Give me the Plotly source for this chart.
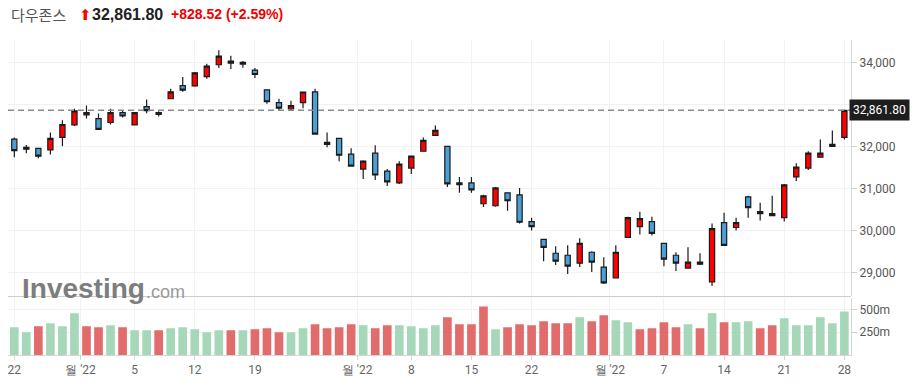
import plotly.graph_objects as go
import pandas as pd

# ---- data ----
dates = [d.strftime("%Y-%m-%d") for d in pd.bdate_range("2022-07-22", "2022-10-28")
         if d.strftime("%Y-%m-%d") != "2022-09-05"]

opens = [32180, 31937, 31960, 31920, 32219, 32516, 32752, 32667, 32573, 32808,
         32516, 32950, 32808, 33138, 33451, 33444, 33663, 33946, 34033, 33962,
         33821, 33350, 33044, 32894, 33044, 33303, 32055, 32196, 31819, 31466,
         31843, 31419, 31136, 31489, 31890, 32266, 32007, 31136, 31136, 30641,
         30594, 30900, 30853, 30217, 29794, 29464, 29417, 29229, 29488, 29135,
         28876, 29841, 30099, 30217, 29700, 29417, 29111, 29252, 28781, 30194,
         30076, 30806, 30453, 30406, 30311, 31278, 31489, 31748, 32055, 32219]
highs = [32219, 32038, 31975, 32337, 32627, 32902, 32980, 32785, 32902, 32855,
         32823, 33122, 32839, 33374, 33656, 33774, 33969, 34292, 34158, 34033,
         33868, 33360, 33138, 33091, 33310, 33374, 32337, 32200, 31960, 31678,
         32031, 31466, 31654, 31780, 32219, 32502, 32015, 31277, 31277, 30853,
         31042, 30910, 31018, 30311, 29800, 29629, 29653, 29818, 29511, 29370,
         29653, 30335, 30453, 30335, 29705, 29488, 29606, 29464, 30170, 30429,
         30311, 30830, 30665, 30830, 31113, 31607, 31890, 32172, 32384, 32865]
lows = [31748, 31843, 31725, 31810, 32007, 32493, 32667, 32392, 32526, 32690,
        32502, 32792, 32714, 33130, 33303, 33421, 33616, 33868, 33845, 33875,
        33633, 33020, 32846, 32855, 32910, 32290, 31984, 31654, 31530, 31230,
        31207, 31065, 31113, 31348, 31885, 32260, 31042, 30900, 30900, 30563,
        30571, 30476, 30170, 30005, 29276, 29182, 28970, 29135, 29017, 28734,
        28870, 29835, 29911, 29888, 29158, 29041, 29105, 29182, 28687, 29650,
        30005, 30311, 30241, 30355, 30217, 31183, 31442, 31745, 32003, 32172]
closes = [31904, 31984, 31772, 32196, 32526, 32850, 32808, 32408, 32808, 32728,
          32808, 32855, 32765, 33303, 33341, 33755, 33915, 34151, 33986, 34005,
          33715, 33067, 32915, 32973, 33298, 32297, 32102, 31795, 31536, 31654,
          31325, 31160, 31584, 31772, 32149, 32384, 31113, 31095, 30971, 30830,
          31018, 30712, 30201, 30099, 29605, 29276, 29158, 29700, 29252, 28758,
          29488, 30311, 30288, 29935, 29323, 29229, 29252, 29205, 30052, 29653,
          30194, 30547, 30406, 30359, 31089, 31513, 31843, 31843, 32007, 32861.8]
volumes_m = [304, 250, 315, 348, 315, 457, 315, 304, 326, 304,
             272, 272, 272, 293, 304, 283, 250, 272, 272, 272,
             283, 293, 250, 250, 293, 337, 293, 304, 337, 326,
             293, 326, 326, 315, 293, 326, 413, 337, 337, 533,
             283, 304, 337, 326, 370, 348, 348, 413, 370, 435,
             380, 359, 283, 293, 359, 304, 337, 293, 457, 359,
             359, 370, 293, 326, 402, 326, 326, 413, 348, 478]

last_price = 32861.80
change = 828.52
change_pct = 2.59

price_ticks = [29000, 30000, 31000, 32000, 33000, 34000]
volume_ticks = [250, 500]
volume_tick_labels = ["250m", "500m"]

tick_dates = ["2022-07-22", "2022-08-01", "2022-08-05", "2022-08-12", "2022-08-19",
              "2022-09-01", "2022-09-08", "2022-09-15", "2022-09-22",
              "2022-10-03", "2022-10-07", "2022-10-14", "2022-10-21", "2022-10-28"]
tick_labels = ["22", "월 '22", "5", "12", "19", "월 '22", "8", "15", "22",
               "월 '22", "7", "14", "21", "28"]

# ---- derived ----
idx = list(range(len(dates)))
tick_pos = [dates.index(d) - (0.5 if "월" in lab else 0) for d, lab in zip(tick_dates, tick_labels)]
GREEN, RED = "#a6d7b8", "#e26b6b"
vol_colors = [GREEN if (i == 0 or closes[i] >= closes[i - 1]) else RED for i in idx]

W, H = 915, 385
L, R, T, B = 8, 64, 40, 27
PW, PH = W - L - R, H - T - B


def xp(px):
    return (px - L) / PW


def yp(py):
    return (H - B - py) / PH


fig = go.Figure()
fig.add_trace(go.Candlestick(
    x=idx, open=opens, high=highs, low=lows, close=closes,
    increasing=dict(fillcolor="#ff0000", line=dict(color="#1b1b1b", width=1.2)),
    decreasing=dict(fillcolor="#4b9fd6", line=dict(color="#1b1b1b", width=1.2)),
    whiskerwidth=0, xaxis="x", yaxis="y", showlegend=False, name="다우존스"))
fig.add_trace(go.Bar(
    x=idx, y=volumes_m, marker=dict(color=vol_colors, line=dict(width=0)),
    width=0.72, xaxis="x2", yaxis="y2", showlegend=False, name="거래량"))

xrange = [-0.524, 69.55]
grid = "#f2f2f2"
axis_font = dict(family="Roboto", size=12, color="#666")

fig.update_layout(
    width=W, height=H, margin=dict(l=L, r=R, t=T, b=B),
    paper_bgcolor="white", plot_bgcolor="white",
    boxgap=0.38, showlegend=False,
    xaxis=dict(domain=[0, 1], anchor="y", range=xrange, tickvals=tick_pos,
               showticklabels=False, showgrid=True, gridcolor=grid, zeroline=False,
               ticks="", rangeslider=dict(visible=False), fixedrange=True),
    xaxis2=dict(domain=[0, 1], anchor="y2", range=xrange, matches="x", tickvals=tick_pos,
                ticktext=tick_labels, showgrid=True, gridcolor=grid, zeroline=False,
                ticks="outside", ticklen=4, tickcolor="#d6d6d6", showline=True,
                linecolor="#d6d6d6", tickfont=axis_font),
    yaxis=dict(domain=[yp(298), 1], anchor="x", side="right", range=[28458, 34535],
               tickvals=price_ticks, ticktext=[f"{v:,}" for v in price_ticks],
               showgrid=True, gridcolor=grid, zeroline=False, showline=True,
               linecolor="#d6d6d6", ticks="outside", ticklen=5, tickcolor="#d0d0d0",
               tickfont=dict(family="Roboto", size=12, color="#555")),
    yaxis2=dict(domain=[0, yp(300)], anchor="x2", side="right",
                range=[0, (H - B - 300) / 0.092],
                tickvals=volume_ticks, ticktext=volume_tick_labels,
                showgrid=True, gridcolor=grid, zeroline=False, showline=True,
                linecolor="#d6d6d6", ticks="outside", ticklen=5, tickcolor="#d0d0d0",
                tickfont=dict(family="Roboto", size=12, color="#555")),
)

# separator between price and volume panes
fig.add_shape(type="line", xref="paper", yref="paper", x0=0, x1=1, y0=yp(299), y1=yp(299),
              line=dict(color="#cccccc", width=1))
# last price dashed line
fig.add_shape(type="line", xref="paper", yref="y", x0=0, x1=1, y0=last_price, y1=last_price,
              line=dict(color="#8a8a8a", width=1.5, dash="6px,4px"))

# last price label
fig.add_annotation(xref="paper", yref="y", x=xp(849), y=last_price, xanchor="left",
                   yanchor="middle", text=f"{last_price:,.2f}", showarrow=False,
                   font=dict(family="Roboto", size=12, color="white"),
                   bgcolor="#1e1e1e", borderpad=3)

# header
hy = yp(14)
fig.add_annotation(xref="paper", yref="paper", x=xp(9), y=hy, xanchor="left", yanchor="middle",
                   text="다우존스", showarrow=False,
                   font=dict(family="Noto Sans CJK KR", size=15, color="#555"))
fig.add_annotation(xref="paper", yref="paper", x=xp(77), y=yp(15), xanchor="left", yanchor="middle",
                   text="⬆", showarrow=False,
                   font=dict(family="DejaVu Sans", size=15, color="#ff0000"))
fig.add_annotation(xref="paper", yref="paper", x=xp(90), y=hy, xanchor="left", yanchor="middle",
                   text=f"<b>{last_price:,.2f}</b>", showarrow=False,
                   font=dict(family="Liberation Sans", size=16, color="#222"))
fig.add_annotation(xref="paper", yref="paper", x=xp(169), y=hy, xanchor="left", yanchor="middle",
                   text=f"<b>+{change:,.2f} (+{change_pct:.2f}%)</b>", showarrow=False,
                   font=dict(family="Liberation Sans", size=14, color="#f00000"))

# watermark
fig.add_annotation(xref="paper", yref="paper", x=xp(20), y=yp(291), xanchor="left", yanchor="middle",
                   text="<b>Investing</b>", showarrow=False,
                   font=dict(family="Liberation Sans", size=28, color="#7d7d7d"))
fig.add_annotation(xref="paper", yref="paper", x=xp(144), y=yp(294), xanchor="left", yanchor="middle",
                   text=".com", showarrow=False,
                   font=dict(family="Liberation Sans", size=18, color="#9a9a9a"))

fig.write_html("out.html", config={"displayModeBar": False},
               post_script="document.body.style.margin='0';")
